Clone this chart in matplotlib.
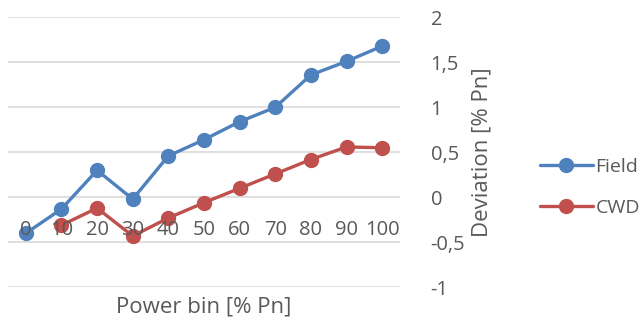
import numpy as np
import matplotlib.pyplot as plt
from matplotlib.ticker import FixedLocator, FixedFormatter

# -- DATA -- #
power_bins = ['0', '10', '20', '30', '40', '50', '60', '70', '80', '90', '100']
field = [-0.40, -0.13, 0.30, -0.02, 0.46, 0.64, 0.84, 1.00, 1.36, 1.51, 1.68]
cwd = [np.nan, -0.31, -0.12, -0.43, -0.23, -0.06, 0.10, 0.26, 0.42, 0.56, 0.55]
y_ticks = [-1, -0.5, 0, 0.5, 1, 1.5, 2]
y_tick_labels = ['-1', '-0,5', '0', '0,5', '1', '1,5', '2']

plt.rcParams['font.family'] = ['Open Sans', 'DejaVu Sans']
grey = '#595959'
fs = 14.5

fig = plt.figure(figsize=(6.44, 3.24), dpi=100)
ax = fig.add_axes([8 / 644, 1 - 287.3 / 324, 392 / 644, 270 / 324])

# gridlines drawn by hand so the tick labels can stay above the lines
for yt in y_ticks:
    ax.axhline(yt, color='#D9D9D9', lw=1.2, zorder=1)

x = np.arange(len(power_bins))
ax.plot(x, field, color='#4F81BD', lw=2.4, marker='o', ms=10, label='Field',
        solid_capstyle='round', zorder=2)
ax.plot(x, cwd, color='#C0504D', lw=2.4, marker='o', ms=10, label='CWD',
        solid_capstyle='round', zorder=2)

ax.set_xlim(-0.5, len(power_bins) - 0.5)
ax.set_ylim(-1, 2)
ax.set_axisbelow(False)

# category axis crosses at 0, labels sit below the 0 line
ax.spines['bottom'].set_position(('data', 0))
for s in ['top', 'left', 'right', 'bottom']:
    ax.spines[s].set_visible(False)
ax.set_xticks(x)
ax.set_xticklabels(power_bins)
ax.tick_params(axis='x', length=0, pad=16.5, labelsize=fs, labelcolor=grey)

# value axis on the right
ax.yaxis.tick_right()
ax.yaxis.set_major_locator(FixedLocator(y_ticks))
ax.yaxis.set_major_formatter(FixedFormatter(y_tick_labels))
ax.tick_params(axis='y', length=0, pad=22, labelsize=fs, labelcolor=grey)
for lab in ax.get_yticklabels():
    lab.set_horizontalalignment('left')

fig.text(481.7 / 644, 1 - 152.5 / 324, 'Deviation [% Pn]', rotation=90,
         ha='center', va='center', fontsize=16, color=grey)
fig.text(204 / 644, 1 - 307 / 324, 'Power bin [% Pn]', ha='center',
         va='center', fontsize=16, color=grey)

leg = fig.legend(loc='center left', bbox_to_anchor=(540 / 644, 1 - 187.5 / 324),
                 frameon=False, fontsize=14, handlelength=2.7, handletextpad=0.15,
                 labelspacing=1.2, borderpad=0, borderaxespad=0)
for t in leg.get_texts():
    t.set_color(grey)

fig.savefig('out.png', dpi=100)
